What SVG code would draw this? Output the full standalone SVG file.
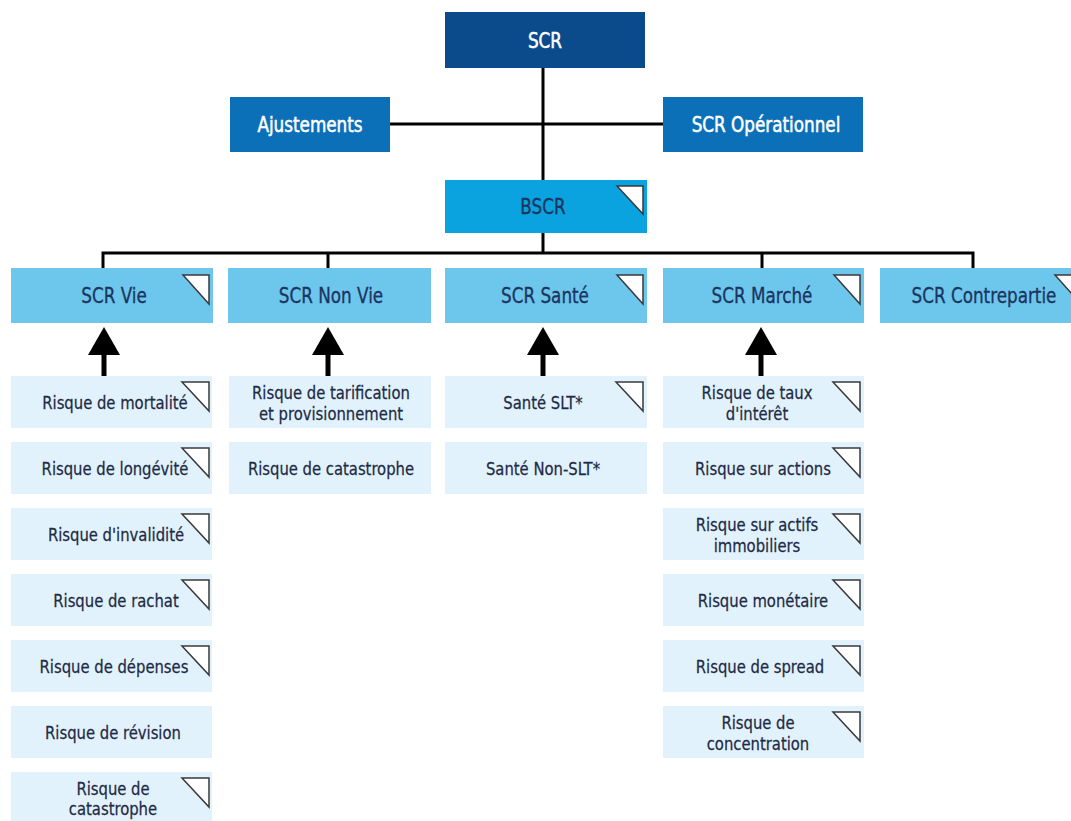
<svg xmlns="http://www.w3.org/2000/svg" width="1071" height="821" viewBox="0 0 1071 821">
  <style>
    text { font-family: "DejaVu Sans Condensed", "DejaVu Sans", sans-serif; font-stretch: condensed; text-anchor: middle; transform-box: fill-box; transform-origin: center; transform: scaleX(0.89); paint-order: stroke; }
    .top { fill: #0b4a8b; }
    .mid { fill: #0c70b8; }
    .bscr { fill: #0aa2df; }
    .sub { fill: #6dc6ec; }
    .leaf { fill: #e2f2fc; }
    .t-white { fill: #ffffff; stroke: #ffffff; stroke-width: 0.5; font-size: 21px; }
    .t-sub { fill: #1b3560; stroke: #1b3560; stroke-width: 0.3; font-size: 21px; }
    .t-leaf { fill: #1d2a45; stroke: #1d2a45; stroke-width: 0.25; font-size: 18.5px; }
    .flag { fill: #ffffff; stroke: #3a3a3a; stroke-width: 1.5; stroke-linejoin: miter; }
    .wire { fill: none; stroke: #000000; stroke-width: 3; }
    .lift { stroke: #000000; stroke-width: 5; marker-end: url(#head); }
  </style>
  <defs>
    <marker id="head" viewBox="0 0 28 32" refX="2" refY="16" markerWidth="28" markerHeight="32" markerUnits="userSpaceOnUse" orient="auto">
      <path d="M0,0 L28,16 L0,32 Z" fill="#000000"/>
    </marker>
  </defs>

  <rect width="1071" height="821" fill="#ffffff"/>

  <!-- connectors -->
  <g id="connectors">
    <path class="wire" d="M543,68 V180"/>
    <path class="wire" d="M390,124 H663"/>
    <path class="wire" d="M543,233 V253"/>
    <path class="wire" d="M103,268 V253 H973 V268"/>
    <path class="wire" d="M328,253 V268"/>
    <path class="wire" d="M762,253 V268"/>
    <line class="lift" x1="104" y1="376" x2="104" y2="353"/>
    <line class="lift" x1="328" y1="376" x2="328" y2="353"/>
    <line class="lift" x1="543" y1="376" x2="543" y2="353"/>
    <line class="lift" x1="761" y1="376" x2="761" y2="353"/>
  </g>

  <!-- top level -->
  <g id="scr">
    <rect class="top" x="445" y="12" width="200" height="56"/>
    <text class="t-white" x="545" y="48">SCR</text>
  </g>
  <g id="ajustements">
    <rect class="mid" x="230" y="97" width="160" height="55"/>
    <text class="t-white" x="310" y="132">Ajustements</text>
  </g>
  <g id="scr-operationnel">
    <rect class="mid" x="663" y="97" width="200" height="55"/>
    <text class="t-white" x="766" y="132">SCR Opérationnel</text>
  </g>
  <g id="bscr">
    <rect class="bscr" x="445" y="180" width="202" height="53"/>
    <path class="flag" d="M617,186 H643 V214 Z"/>
    <text class="t-sub" x="543" y="214">BSCR</text>
  </g>

  <!-- modules -->
  <g id="scr-vie">
    <rect class="sub" x="11" y="268" width="202" height="55"/>
    <path class="flag" d="M183,275 H209 V304 Z"/>
    <text class="t-sub" x="114" y="303">SCR Vie</text>
  </g>
  <g id="scr-non-vie">
    <rect class="sub" x="228" y="268" width="203" height="55"/>
    <text class="t-sub" x="331" y="303">SCR Non Vie</text>
  </g>
  <g id="scr-sante">
    <rect class="sub" x="445" y="268" width="202" height="55"/>
    <path class="flag" d="M617,275 H643 V304 Z"/>
    <text class="t-sub" x="545" y="303">SCR Santé</text>
  </g>
  <g id="scr-marche">
    <rect class="sub" x="663" y="268" width="201" height="55"/>
    <path class="flag" d="M834,275 H860 V304 Z"/>
    <text class="t-sub" x="762" y="303">SCR Marché</text>
  </g>
  <g id="scr-contrepartie">
    <rect class="sub" x="880" y="268" width="208" height="55"/>
    <path class="flag" d="M1055,275 H1081 V304 Z"/>
    <text class="t-sub" x="984" y="303">SCR Contrepartie</text>
  </g>

  <!-- life sub-risks -->
  <g id="vie-mortalite">
    <rect class="leaf" x="11" y="376" width="201" height="52"/>
    <path class="flag" d="M182,382 H209 V411 Z"/>
    <text class="t-leaf" x="115" y="409">Risque de mortalité</text>
  </g>
  <g id="vie-longevite">
    <rect class="leaf" x="11" y="442" width="201" height="52"/>
    <path class="flag" d="M182,448 H209 V477 Z"/>
    <text class="t-leaf" x="115" y="475">Risque de longévité</text>
  </g>
  <g id="vie-invalidite">
    <rect class="leaf" x="11" y="508" width="201" height="52"/>
    <path class="flag" d="M182,514 H209 V543 Z"/>
    <text class="t-leaf" x="116" y="541">Risque d'invalidité</text>
  </g>
  <g id="vie-rachat">
    <rect class="leaf" x="11" y="574" width="201" height="52"/>
    <path class="flag" d="M182,580 H209 V609 Z"/>
    <text class="t-leaf" x="116" y="607">Risque de rachat</text>
  </g>
  <g id="vie-depenses">
    <rect class="leaf" x="11" y="640" width="201" height="52"/>
    <path class="flag" d="M182,646 H209 V675 Z"/>
    <text class="t-leaf" x="114" y="673">Risque de dépenses</text>
  </g>
  <g id="vie-revision">
    <rect class="leaf" x="11" y="706" width="201" height="52"/>
    <text class="t-leaf" x="113" y="739">Risque de révision</text>
  </g>
  <g id="vie-catastrophe">
    <rect class="leaf" x="11" y="772" width="201" height="52"/>
    <path class="flag" d="M182,778 H209 V807 Z"/>
    <text class="t-leaf" x="113" y="795">Risque de</text>
    <text class="t-leaf" x="113" y="815">catastrophe</text>
  </g>

  <!-- non-life sub-risks -->
  <g id="nonvie-tarification">
    <rect class="leaf" x="229" y="376" width="202" height="52"/>
    <text class="t-leaf" x="331" y="399">Risque de tarification</text>
    <text class="t-leaf" x="331" y="420">et provisionnement</text>
  </g>
  <g id="nonvie-catastrophe">
    <rect class="leaf" x="229" y="442" width="202" height="52"/>
    <text class="t-leaf" x="331" y="475">Risque de catastrophe</text>
  </g>

  <!-- health sub-risks -->
  <g id="sante-slt">
    <rect class="leaf" x="445" y="376" width="202" height="52"/>
    <path class="flag" d="M616,382 H643 V411 Z"/>
    <text class="t-leaf" x="543" y="409">Santé SLT*</text>
  </g>
  <g id="sante-non-slt">
    <rect class="leaf" x="445" y="442" width="202" height="52"/>
    <text class="t-leaf" x="543" y="475">Santé Non-SLT*</text>
  </g>

  <!-- market sub-risks -->
  <g id="marche-taux">
    <rect class="leaf" x="663" y="376" width="201" height="52"/>
    <path class="flag" d="M833,382 H860 V411 Z"/>
    <text class="t-leaf" x="757" y="399">Risque de taux</text>
    <text class="t-leaf" x="757" y="420">d'intérêt</text>
  </g>
  <g id="marche-actions">
    <rect class="leaf" x="663" y="442" width="201" height="52"/>
    <path class="flag" d="M833,448 H860 V477 Z"/>
    <text class="t-leaf" x="763" y="475">Risque sur actions</text>
  </g>
  <g id="marche-immobilier">
    <rect class="leaf" x="663" y="508" width="201" height="52"/>
    <path class="flag" d="M833,514 H860 V543 Z"/>
    <text class="t-leaf" x="757" y="531">Risque sur actifs</text>
    <text class="t-leaf" x="757" y="552">immobiliers</text>
  </g>
  <g id="marche-monetaire">
    <rect class="leaf" x="663" y="574" width="201" height="52"/>
    <path class="flag" d="M833,580 H860 V609 Z"/>
    <text class="t-leaf" x="763" y="607">Risque monétaire</text>
  </g>
  <g id="marche-spread">
    <rect class="leaf" x="663" y="640" width="201" height="52"/>
    <path class="flag" d="M833,646 H860 V675 Z"/>
    <text class="t-leaf" x="760" y="673">Risque de spread</text>
  </g>
  <g id="marche-concentration">
    <rect class="leaf" x="663" y="706" width="201" height="52"/>
    <path class="flag" d="M833,712 H860 V741 Z"/>
    <text class="t-leaf" x="758" y="729">Risque de</text>
    <text class="t-leaf" x="758" y="750">concentration</text>
  </g>
</svg>
